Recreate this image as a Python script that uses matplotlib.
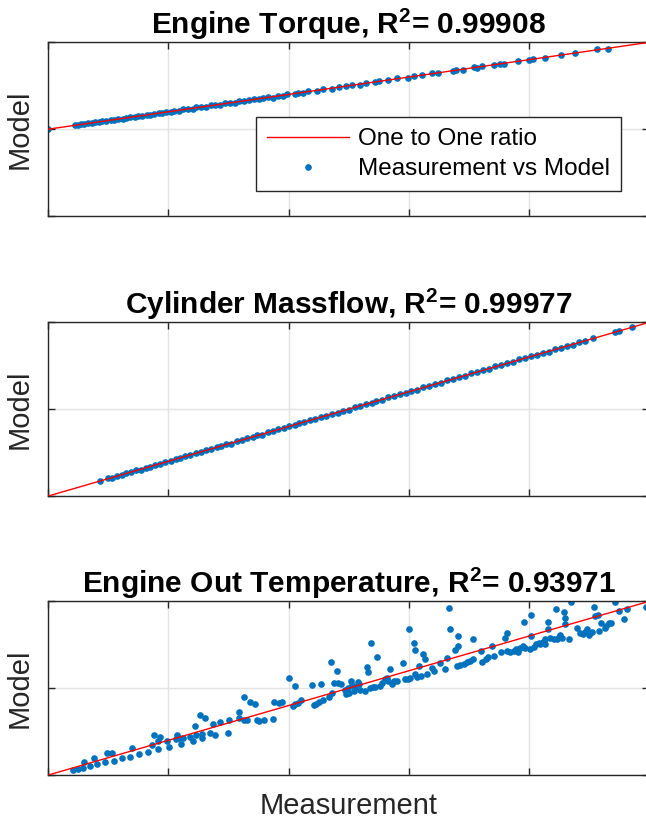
import numpy as np
import matplotlib.pyplot as plt

plt.rcParams['font.family'] = ['Liberation Sans', 'DejaVu Sans']
plt.rcParams['mathtext.fontset'] = 'custom'
plt.rcParams['mathtext.bf'] = 'Liberation Sans:bold'
plt.rcParams['mathtext.rm'] = 'Liberation Sans:bold'
plt.rcParams['mathtext.default'] = 'bf'

BLUE = '#0072BD'

# Engine torque (normalised units)
tq_x = [0.00, 0.22, 0.25, 0.27, 0.30, 0.33, 0.36, 0.39, 0.42, 0.45,
        0.48, 0.52, 0.55, 0.58, 0.62, 0.65, 0.68, 0.72, 0.75, 0.78,
        0.82, 0.85, 0.88, 0.92, 0.95, 0.98, 1.02, 1.05, 1.09, 1.12,
        1.16, 1.20, 1.23, 1.27, 1.31, 1.35, 1.39, 1.43, 1.47, 1.51,
        1.55, 1.59, 1.63, 1.67, 1.71, 1.75, 1.79, 1.83, 1.87, 1.91,
        1.95, 1.99, 2.05, 2.08, 2.12, 2.16, 2.24, 2.29, 2.36, 2.42,
        2.48, 2.53, 2.59, 2.64, 2.72, 2.75, 2.83, 2.90, 2.99, 3.04,
        3.11, 3.19, 3.24, 3.37, 3.39, 3.45, 3.54, 3.57, 3.61, 3.71,
        3.76, 3.79, 3.91, 4.00, 4.03, 4.13, 4.27, 4.38, 4.57, 4.66]
tq_y = [0.00, 0.24, 0.22, 0.30, 0.28, 0.36, 0.34, 0.41, 0.40, 0.48,
        0.46, 0.54, 0.52, 0.61, 0.60, 0.63, 0.71, 0.70, 0.77, 0.76,
        0.84, 0.81, 0.90, 0.91, 0.93, 1.01, 1.00, 1.07, 1.07, 1.14,
        1.14, 1.18, 1.26, 1.25, 1.29, 1.37, 1.37, 1.41, 1.49, 1.49,
        1.53, 1.61, 1.61, 1.65, 1.73, 1.73, 1.77, 1.85, 1.81, 1.93,
        1.93, 2.01, 2.03, 2.10, 2.10, 2.18, 2.22, 2.31, 2.34, 2.44,
        2.46, 2.55, 2.57, 2.66, 2.70, 2.77, 2.81, 2.92, 2.97, 3.06,
        3.09, 3.21, 3.22, 3.35, 3.41, 3.43, 3.56, 3.55, 3.63, 3.69,
        3.78, 3.77, 3.93, 3.98, 4.05, 4.11, 4.29, 4.36, 4.60, 4.64]

# Cylinder massflow
ms_x = [0.43, 0.50, 0.53, 0.57, 0.61, 0.65, 0.69, 0.73, 0.77, 0.81,
        0.85, 0.89, 0.93, 0.97, 1.02, 1.06, 1.10, 1.14, 1.18, 1.23,
        1.27, 1.31, 1.35, 1.40, 1.44, 1.48, 1.52, 1.57, 1.61, 1.65,
        1.70, 1.74, 1.78, 1.83, 1.87, 1.91, 1.96, 2.00, 2.05, 2.09,
        2.13, 2.18, 2.22, 2.27, 2.31, 2.36, 2.41, 2.45, 2.50, 2.55,
        2.59, 2.64, 2.69, 2.73, 2.78, 2.83, 2.88, 2.93, 2.98, 3.02,
        3.07, 3.12, 3.17, 3.22, 3.27, 3.32, 3.37, 3.42, 3.47, 3.52,
        3.57, 3.62, 3.67, 3.72, 3.77, 3.82, 3.87, 3.92, 3.97, 4.02,
        4.07, 4.12, 4.17, 4.22, 4.27, 4.32, 4.37, 4.42, 4.47, 4.53,
        4.72, 4.75, 4.86]
ms_y = [0.42, 0.51, 0.52, 0.58, 0.60, 0.66, 0.68, 0.74, 0.76, 0.82,
        0.84, 0.90, 0.92, 0.98, 1.01, 1.07, 1.09, 1.15, 1.17, 1.24,
        1.26, 1.32, 1.34, 1.41, 1.43, 1.49, 1.51, 1.58, 1.60, 1.66,
        1.69, 1.75, 1.77, 1.84, 1.86, 1.92, 1.95, 2.01, 2.04, 2.10,
        2.12, 2.19, 2.21, 2.28, 2.30, 2.37, 2.40, 2.46, 2.49, 2.56,
        2.58, 2.65, 2.68, 2.74, 2.77, 2.84, 2.87, 2.94, 2.97, 3.03,
        3.06, 3.13, 3.16, 3.23, 3.26, 3.33, 3.36, 3.43, 3.46, 3.53,
        3.56, 3.63, 3.66, 3.73, 3.76, 3.83, 3.86, 3.93, 3.96, 4.03,
        4.06, 4.13, 4.16, 4.23, 4.26, 4.33, 4.36, 4.43, 4.46, 4.54,
        4.73, 4.74, 4.87]

# Engine out temperature
tp_x = [0.203, 0.250, 0.286, 0.297, 0.347, 0.383, 0.408, 0.475, 0.491, 0.530,
        0.550, 0.616, 0.680, 0.699, 0.758, 0.833, 0.860, 0.880, 0.916, 0.916,
        0.927, 0.991, 1.002, 1.060, 1.074, 1.085, 1.102, 1.124, 1.180, 1.207,
        1.218, 1.230, 1.260, 1.282, 1.282, 1.302, 1.346, 1.374, 1.388, 1.432,
        1.496, 1.504, 1.590, 1.590, 1.626, 1.629, 1.651, 1.679,
        1.721, 1.735, 1.754, 1.796, 1.874, 1.882, 1.916, 1.944, 2.001, 2.035,
        2.049, 2.054, 2.082, 2.104, 2.193, 2.215, 2.229, 2.249, 2.273, 2.282,
        2.332, 2.354, 2.365, 2.376, 2.404, 2.410, 2.432, 2.471, 2.479, 2.493,
        2.504, 2.515, 2.526, 2.543, 2.554, 2.576, 2.582, 2.595, 2.632, 2.651,
        2.659, 2.679, 2.687, 2.698, 2.720, 2.734, 2.762, 2.776, 2.804, 2.818,
        2.826, 2.845, 2.859, 2.878, 2.900, 2.948, 2.970, 2.992, 3.003, 3.011,
        3.042, 3.048, 3.053, 3.067, 3.081, 3.103, 3.120, 3.137, 3.150, 3.192,
        3.206, 3.262, 3.298, 3.314, 3.337, 3.339,
        3.381, 3.409, 3.409, 3.400, 3.428, 3.456, 3.484, 3.511, 3.531, 3.531,
        3.603, 3.609, 3.642, 3.659, 3.692, 3.706, 3.770, 3.803, 3.817, 3.820,
        3.844, 3.872, 3.892, 3.908, 3.928, 3.947, 3.955, 3.969, 4.011, 4.019,
        4.019, 4.039, 4.058, 4.081, 4.094, 4.114, 4.130, 4.136, 4.158, 4.158,
        4.178, 4.205, 4.225, 4.233, 4.247, 4.261, 4.275, 4.289, 4.297, 4.303,
        4.330, 4.347, 4.400, 4.428, 4.447, 4.464, 4.483, 4.497, 4.525, 4.544,
        4.552, 4.574, 4.586, 4.602, 4.630, 4.641, 4.663, 4.683, 4.713, 4.747,
        4.788, 4.816, 4.977]
tp_y = [0.145, 0.174, 0.212, 0.367, 0.261, 0.483, 0.319, 0.367, 0.637, 0.627,
        0.415, 0.483, 0.531, 0.772, 0.598, 0.656, 0.859, 1.158, 0.743, 0.965,
        1.100, 0.965, 0.820, 1.023, 1.139, 1.062, 0.907, 1.062, 1.100, 0.985,
        1.409, 1.139, 1.737, 1.187, 1.062, 1.641, 1.216, 1.467, 1.139, 1.525,
        1.207, 1.583, 1.815, 1.641, 2.239, 1.593, 1.593, 2.104,
        2.046, 1.593, 1.544, 1.573, 1.602, 2.095, 2.075, 2.104, 2.799, 1.998,
        2.568, 2.046, 2.075, 2.153, 2.587, 2.008, 2.046, 2.095, 2.606, 2.153,
        2.249, 3.243, 2.365, 2.654, 3.002, 2.645, 2.625, 2.461, 2.336, 2.510,
        2.365, 2.703, 2.587, 2.413, 2.529, 2.674, 2.606, 2.461, 2.432, 3.118,
        2.973, 2.510, 3.793, 2.529, 2.529, 3.407, 2.558, 2.654, 2.770, 2.799,
        2.703, 3.041, 2.625, 2.703, 2.703, 3.234, 2.770, 2.770, 4.218, 2.780,
        3.813, 3.591, 2.896, 2.819, 3.137, 2.847, 3.475, 3.330, 2.896, 3.089,
        2.992, 3.234, 3.041, 3.359, 4.797, 4.218,
        3.591, 4.006, 3.716, 3.137, 3.156, 3.205, 3.253, 3.282, 3.929, 3.330,
        3.571, 3.253, 3.349, 3.398, 3.716, 3.427, 3.542, 3.938, 3.571, 4.102,
        3.542, 3.571, 3.620, 3.552, 3.668, 3.716, 4.392, 3.668, 3.620, 4.604,
        4.006, 3.687, 3.764, 3.813, 3.784, 3.842, 3.764, 3.909, 4.199, 4.411,
        3.938, 3.909, 4.788, 3.909, 3.977, 4.025, 3.958, 4.681, 4.508, 4.344,
        3.909, 4.980, 4.228, 4.083, 4.054, 4.122, 4.199, 4.025, 4.122, 4.826,
        4.585, 4.614, 4.151, 4.363, 4.228, 4.295, 4.363, 4.382, 4.980, 4.730,
        4.488, 4.778, 4.826]

titles = ['Engine Torque, R$^2$= 0.99908',
          'Cylinder Massflow, R$^2$= 0.99977',
          'Engine Out Temperature, R$^2$= 0.93971']
ylims = [(-5, 5), (0, 5), (0, 5)]
panels = [(tq_x, tq_y), (ms_x, ms_y), (tp_x, tp_y)]
bottoms = [0.7382, 0.3988, 0.0606]

fig = plt.figure(figsize=(6.46, 8.25), dpi=100)
for i in range(3):
    ax = fig.add_axes([0.0748, bottoms[i], 0.93, 0.2105])
    x, y = panels[i]
    ax.plot([0, 5], [0, 5], color='#FF0000', lw=1.0, label='One to One ratio', zorder=3)
    ax.plot(x, y, 'o', color=BLUE, ms=4.8, mew=0, label='Measurement vs Model', zorder=2)
    ax.set_xlim(0, 5)
    ax.set_ylim(*ylims[i])
    lo, hi = ylims[i]
    ax.set_xticks([0, 1, 2, 3, 4, 5])
    ax.set_yticks([lo, (lo + hi) / 2, hi])
    ax.set_xticklabels([])
    ax.set_yticklabels([])
    ax.tick_params(direction='in', length=5, width=1, color='#262626',
                   top=True, right=True)
    ax.grid(True, color='#E3E3E3', lw=1)
    ax.set_axisbelow(True)
    for s in ax.spines.values():
        s.set_color('#262626')
        s.set_linewidth(1)
    ax.set_title(titles[i], fontsize=21.5, fontweight='bold', pad=6)
    ax.set_ylabel('Model', fontsize=21, color='#262626', labelpad=7)
    if i == 0:
        ax.legend(loc='upper right', bbox_to_anchor=(0.953, 0.569), borderaxespad=0,
                  fontsize=17.5, handlelength=3.4, handletextpad=0.35,
                  fancybox=False, edgecolor='#262626', framealpha=1,
                  borderpad=0.45, labelspacing=0.33)
    if i == 2:
        ax.set_xlabel('Measurement', fontsize=21, color='#262626', labelpad=9)

fig.savefig('out.png', dpi=100)
